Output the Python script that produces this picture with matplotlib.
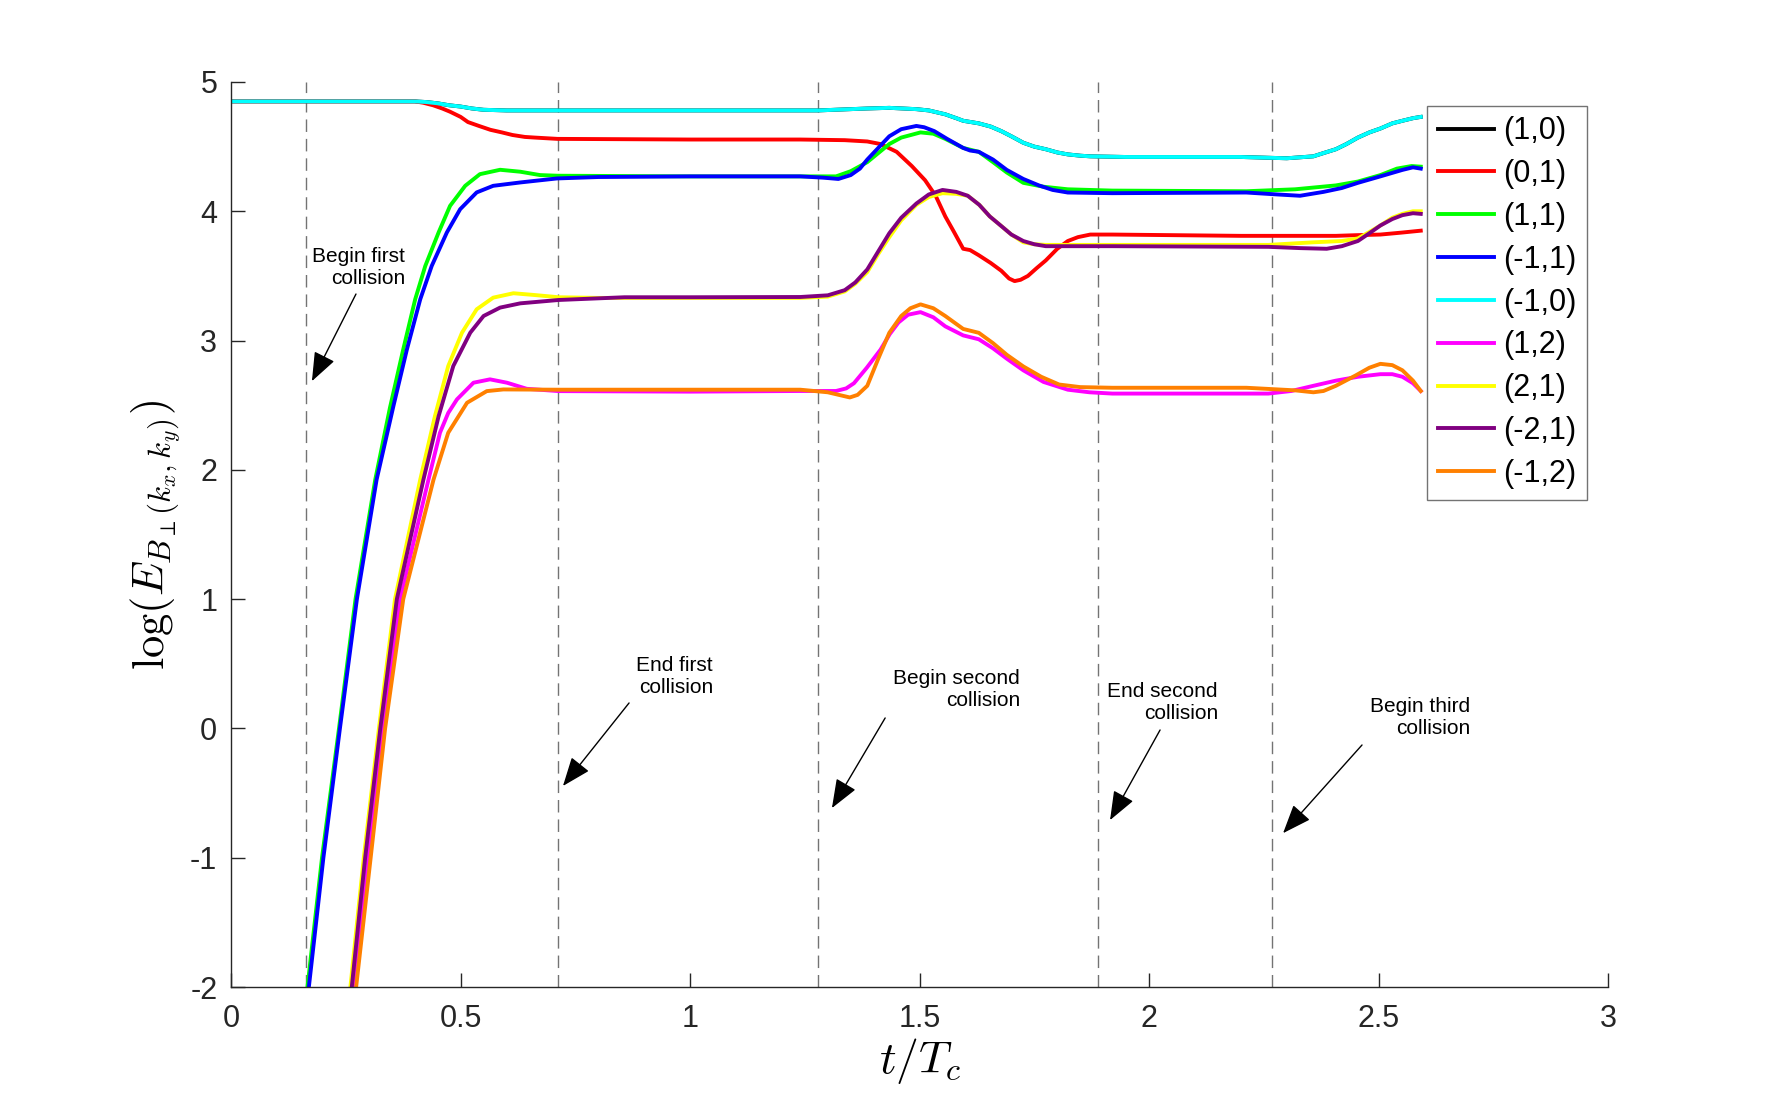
import matplotlib.pyplot as plt

plt.rcParams['font.family'] = ['Liberation Sans', 'DejaVu Sans']
plt.rcParams['mathtext.fontset'] = 'cm'
plt.rcParams['axes.unicode_minus'] = False

# Mode energies log(E) against t/Tc
t_10 = [0, 0.3, 0.4, 0.425, 0.45, 0.475, 0.5, 0.525, 0.55, 0.6, 0.8, 1.0, 1.24, 1.279, 1.386,
        1.434, 1.493, 1.52, 1.556, 1.58, 1.595, 1.629, 1.655, 1.678, 1.70, 1.726, 1.75,
        1.775, 1.80, 1.823, 1.85, 1.872, 1.95, 2.2, 2.3, 2.358, 2.38, 2.407, 2.43, 2.455,
        2.48, 2.504, 2.53, 2.552, 2.575, 2.592]
e_10 = [4.85, 4.85, 4.85, 4.845, 4.835, 4.82, 4.81, 4.795, 4.785, 4.78, 4.78, 4.78, 4.78, 4.78, 4.795,
        4.80, 4.79, 4.78, 4.75, 4.72, 4.70, 4.68, 4.655, 4.62, 4.58, 4.53, 4.50,
        4.48, 4.455, 4.44, 4.43, 4.425, 4.42, 4.42, 4.41, 4.425, 4.45, 4.48, 4.52, 4.57,
        4.61, 4.64, 4.68, 4.70, 4.72, 4.73]

t_01 = [0, 0.3, 0.40, 0.418, 0.44, 0.46, 0.477, 0.5, 0.516, 0.54, 0.565, 0.59, 0.613, 0.64,
        0.662, 0.711, 1.0, 1.24, 1.337, 1.386, 1.415, 1.45, 1.483, 1.512, 1.535, 1.556,
        1.575, 1.595, 1.61, 1.629, 1.655, 1.678, 1.695, 1.707, 1.72, 1.736, 1.755, 1.775,
        1.80, 1.823, 1.845, 1.872, 1.92, 2.2, 2.407, 2.45, 2.504, 2.55, 2.592]
e_01 = [4.85, 4.85, 4.85, 4.84, 4.82, 4.795, 4.77, 4.73, 4.69, 4.66, 4.63, 4.61, 4.59, 4.575,
        4.57, 4.56, 4.555, 4.555, 4.55, 4.54, 4.52, 4.46, 4.35, 4.24, 4.12, 3.96,
        3.84, 3.71, 3.70, 3.66, 3.60, 3.54, 3.48, 3.46, 3.47, 3.50, 3.56, 3.62,
        3.71, 3.77, 3.80, 3.82, 3.82, 3.81, 3.81, 3.815, 3.82, 3.835, 3.85]

t_11 = [0.160, 0.198, 0.235, 0.271, 0.314, 0.346, 0.375, 0.401, 0.423, 0.452, 0.477, 0.51,
        0.542, 0.586, 0.63, 0.673, 0.711, 1.0, 1.24, 1.318,
        1.35, 1.386, 1.41, 1.434, 1.46, 1.502, 1.53, 1.556, 1.595, 1.629, 1.66, 1.69,
        1.726, 1.77, 1.823, 1.92, 2.212, 2.318, 2.407, 2.455, 2.504, 2.54, 2.572, 2.592]
e_11 = [-2.2, -1.0, 0.0, 1.0, 1.925, 2.48, 2.932, 3.319, 3.577, 3.836, 4.042, 4.197,
        4.287, 4.321, 4.306, 4.28, 4.275, 4.27, 4.27, 4.27,
        4.31, 4.38, 4.45, 4.52, 4.57, 4.61, 4.60, 4.56, 4.49, 4.46, 4.38, 4.30,
        4.22, 4.19, 4.17, 4.16, 4.155, 4.17, 4.20, 4.23, 4.28, 4.33, 4.35, 4.345]

t_m11 = [0.163, 0.201, 0.237, 0.274, 0.317, 0.354, 0.383, 0.412, 0.437, 0.47, 0.499, 0.535,
         0.571, 0.63, 0.71, 0.8, 1.0, 1.24, 1.29, 1.323,
         1.35, 1.37, 1.386, 1.41, 1.434, 1.46, 1.493, 1.51, 1.532, 1.56, 1.595, 1.61,
         1.629, 1.66, 1.69, 1.726, 1.76, 1.79, 1.823, 1.92, 2.212, 2.28, 2.329, 2.38,
         2.42, 2.455, 2.504, 2.552, 2.575, 2.592]
e_m11 = [-2.2, -1.0, 0.0, 1.0, 1.925, 2.5, 2.932, 3.319, 3.577, 3.836, 4.016, 4.146,
         4.197, 4.223, 4.254, 4.265, 4.27, 4.27, 4.26, 4.25,
         4.28, 4.33, 4.40, 4.49, 4.58, 4.635, 4.66, 4.65, 4.62, 4.56, 4.49, 4.47,
         4.46, 4.40, 4.32, 4.25, 4.20, 4.165, 4.145, 4.14, 4.145, 4.13, 4.12, 4.15,
         4.18, 4.22, 4.27, 4.32, 4.34, 4.33]

t_m10 = t_10
e_m10 = e_10

t_12 = [0.262, 0.297, 0.330, 0.368, 0.43, 0.455, 0.473, 0.492, 0.528, 0.564, 0.601, 0.644,
        0.714, 1.0, 1.24, 1.318, 1.34, 1.357, 1.385,
        1.415, 1.435, 1.454, 1.475, 1.502, 1.53, 1.556, 1.595, 1.629, 1.66, 1.69, 1.726,
        1.77, 1.823, 1.87, 1.92, 2.26, 2.31, 2.358, 2.407, 2.455, 2.504, 2.53, 2.552,
        2.575, 2.592]
e_12 = [-2.2, -1.0, 0.0, 1.0, 1.925, 2.287, 2.44, 2.545, 2.674, 2.70, 2.674, 2.627,
        2.609, 2.605, 2.61, 2.61, 2.63, 2.67, 2.79,
        2.93, 3.05, 3.14, 3.20, 3.22, 3.18, 3.11, 3.04, 3.01, 2.94, 2.86, 2.77,
        2.68, 2.62, 2.60, 2.59, 2.59, 2.61, 2.65, 2.69, 2.72, 2.74, 2.74, 2.72,
        2.67, 2.61]

t_21 = [0.254, 0.289, 0.322, 0.357, 0.412, 0.444, 0.473, 0.503, 0.535, 0.571, 0.615, 0.659,
        0.714, 0.8, 1.0, 1.24, 1.3, 1.337, 1.36, 1.386, 1.41,
        1.434, 1.46, 1.493, 1.52, 1.55, 1.58, 1.605, 1.63, 1.653, 1.68, 1.70, 1.726, 1.75,
        1.775, 1.92, 2.26, 2.358, 2.42, 2.455, 2.48, 2.504, 2.53, 2.552, 2.575, 2.592]
e_21 = [-2.2, -1.0, 0.0, 1.0, 1.925, 2.415, 2.803, 3.061, 3.242, 3.332, 3.366, 3.353,
        3.335, 3.33, 3.33, 3.33, 3.34, 3.38, 3.44, 3.53, 3.67,
        3.80, 3.93, 4.05, 4.11, 4.14, 4.135, 4.12, 4.05, 3.96, 3.88, 3.82, 3.76, 3.745,
        3.74, 3.74, 3.74, 3.76, 3.77, 3.79, 3.84, 3.89, 3.95, 3.98, 4.0, 4.0]

t_m21 = [0.257, 0.292, 0.325, 0.361, 0.419, 0.452, 0.484, 0.521, 0.55, 0.586, 0.63, 0.714,
         0.857, 1.0, 1.24, 1.3, 1.337, 1.36, 1.386, 1.41,
         1.434, 1.46, 1.493, 1.52, 1.55, 1.58, 1.605, 1.63, 1.653, 1.68, 1.70, 1.726,
         1.75, 1.775, 1.92, 2.26, 2.33, 2.387, 2.42, 2.455, 2.48, 2.504, 2.53, 2.552,
         2.575, 2.592]
e_m21 = [-2.2, -1.0, 0.0, 1.0, 1.925, 2.415, 2.803, 3.061, 3.19, 3.255, 3.288, 3.314,
         3.335, 3.335, 3.337, 3.35, 3.39, 3.45, 3.55, 3.69,
         3.83, 3.95, 4.06, 4.13, 4.165, 4.15, 4.12, 4.05, 3.96, 3.88, 3.82, 3.77,
         3.745, 3.73, 3.73, 3.725, 3.715, 3.71, 3.73, 3.77, 3.83, 3.89, 3.94, 3.97,
         3.985, 3.98]

t_m12 = [0.266, 0.304, 0.3355, 0.375, 0.441, 0.473, 0.514, 0.557, 0.593, 0.711, 1.0, 1.24,
         1.3, 1.33, 1.348, 1.365, 1.386, 1.41, 1.434, 1.46, 1.48,
         1.502, 1.53, 1.556, 1.595, 1.629, 1.66, 1.69, 1.726, 1.765, 1.804, 1.85, 1.92,
         2.212, 2.318, 2.358, 2.38, 2.407, 2.45, 2.48, 2.504, 2.53, 2.552, 2.575, 2.592]
e_m12 = [-2.2, -1.0, 0.0, 1.0, 1.925, 2.287, 2.519, 2.609, 2.622, 2.62, 2.62, 2.62,
         2.60, 2.575, 2.56, 2.58, 2.65, 2.86, 3.06, 3.19, 3.25,
         3.28, 3.25, 3.19, 3.09, 3.06, 2.98, 2.89, 2.80, 2.72, 2.66, 2.64, 2.635,
         2.635, 2.615, 2.60, 2.61, 2.65, 2.73, 2.79, 2.82, 2.81, 2.77, 2.69, 2.61]

labels = ['(1,0)', '(0,1)', '(1,1)', '(-1,1)', '(-1,0)', '(1,2)', '(2,1)', '(-2,1)', '(-1,2)']
colors = ['#000000', '#ff0000', '#00ff00', '#0000ff', '#00ffff', '#ff00ff', '#ffff00',
          '#800080', '#ff8000']
series = [(t_10, e_10), (t_01, e_01), (t_11, e_11), (t_m11, e_m11), (t_m10, e_m10),
          (t_12, e_12), (t_21, e_21), (t_m21, e_m21), (t_m12, e_m12)]

# collision markers
t_events = [0.163, 0.712, 1.279, 1.888, 2.268]
notes = ['Begin first\ncollision', 'End first\ncollision', 'Begin second\ncollision',
         'End second\ncollision', 'Begin third\ncollision']
note_pos = [(0.379, 3.567), (1.050, 0.40), (1.719, 0.298), (2.150, 0.197), (2.699, 0.081)]
arrow_tail = [(0.272, 3.36), (0.867, 0.197), (1.425, 0.081), (2.024, -0.012), (2.464, -0.128)]
arrow_tip = [(0.176, 2.686), (0.723, -0.445), (1.309, -0.616), (1.915, -0.709), (2.292, -0.81)]

fig = plt.figure(figsize=(17.78, 11.11), dpi=100)
ax = fig.add_axes([0.13, 0.1116, 0.7744, 0.8146])

for te in t_events:
    ax.axvline(te, color='0.45', lw=1.0, dashes=(9, 5), zorder=1)

for (t, e), lab, c in zip(series, labels, colors):
    ax.plot(t, e, color=c, lw=2.8, label=lab, zorder=2, solid_joinstyle='round')

for txt, (tx, ty), tail, tip in zip(notes, note_pos, arrow_tail, arrow_tip):
    ax.text(tx, ty, txt, ha='right', va='center', multialignment='right',
            fontsize=15, linespacing=1.2)
    ax.annotate('', xy=tip, xytext=tail,
                arrowprops=dict(arrowstyle='-|>,head_length=0.9,head_width=0.35',
                                color='black', lw=1.0, shrinkA=0, shrinkB=0,
                                mutation_scale=20))

ax.set_xlim(0, 3)
ax.set_ylim(-2, 5)
ax.set_xticks([0, 0.5, 1, 1.5, 2, 2.5, 3])
ax.set_xticklabels(['0', '0.5', '1', '1.5', '2', '2.5', '3'])
ax.set_yticks(range(-2, 6))
ax.tick_params(direction='in', length=10, width=1.0, labelsize=22, colors='#262626')
ax.tick_params(axis='x', pad=12)
ax.tick_params(axis='y', pad=10)
for s in ['top', 'right']:
    ax.spines[s].set_visible(False)
for s in ['left', 'bottom']:
    ax.spines[s].set_color('#262626')
    ax.spines[s].set_linewidth(1.0)

ax.set_xlabel(r'$t/T_c$', fontsize=33, labelpad=2)
ax.set_ylabel(r'$\log(E_{B_\perp(k_x,k_y)})$', fontsize=32, labelpad=6)

leg = ax.legend(loc='upper right', bbox_to_anchor=(0.985, 0.974), fontsize=22,
                handlelength=1.85, handletextpad=0.3, labelspacing=0.42,
                borderpad=0.35, borderaxespad=0, fancybox=False, framealpha=1)
leg.get_frame().set_edgecolor('0.45')
leg.get_frame().set_linewidth(1.0)

fig.savefig('out.png', dpi=100)
